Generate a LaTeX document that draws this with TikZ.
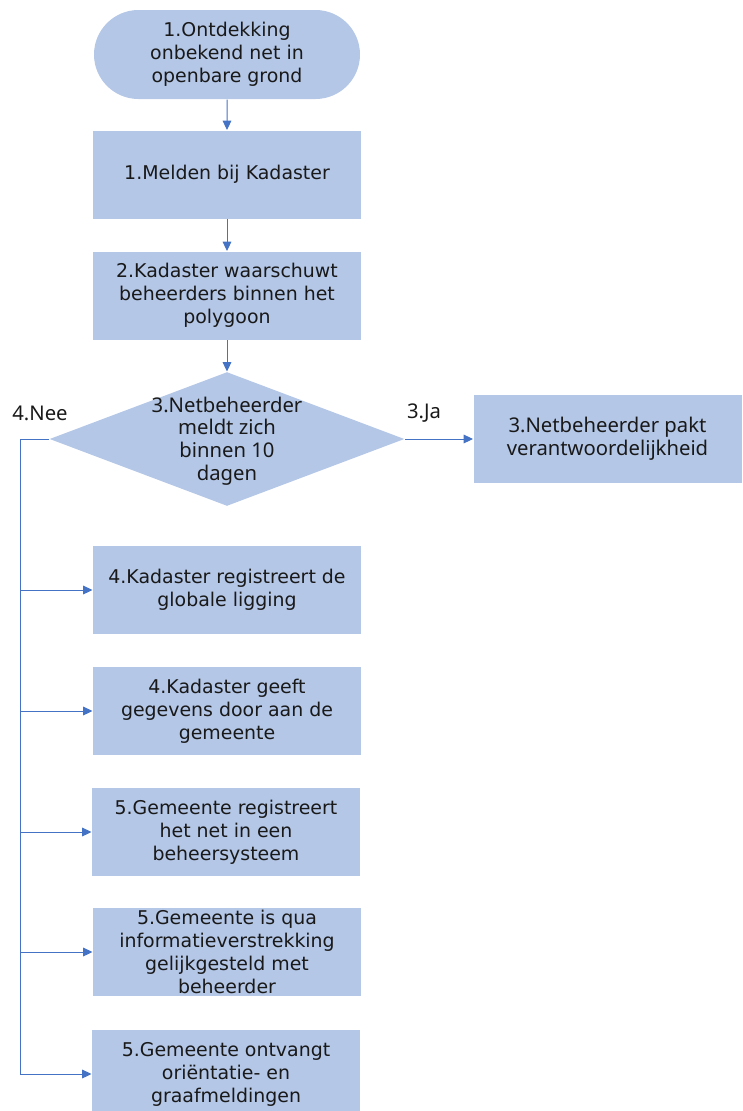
\documentclass[tikz,border=0pt]{standalone}
\usepackage{fontspec}
\setmainfont{DejaVu Sans}
\newfontfamily\segoefont{Noto Sans}
\usetikzlibrary{shapes.geometric,shapes.misc,arrows.meta}

\definecolor{boxblue}{RGB}{180,199,231}
\definecolor{lineblue}{RGB}{68,114,196}
\definecolor{txtdark}{RGB}{25,25,25}

\tikzset{every picture/.style={line width=0.75pt}}
\tikzset{
  procbox/.style={rectangle, fill=boxblue, minimum width=201pt, minimum height=66pt, inner sep=0.75pt, align=center, text=txtdark, font=\fontsize{14.2}{17.2}\selectfont},
  termbox/.style={procbox, rounded rectangle, minimum height=66.75pt},
  sidebox/.style={procbox, font=\segoefont\fontsize{15.2}{17}\selectfont},
  decision/.style={diamond, fill=boxblue, minimum width=266.25pt, minimum height=100.5pt, inner sep=0pt},
  flowline/.style={draw=lineblue, line width=0.75pt, -{Triangle[length=7pt,width=6.5pt]}},
  branchlbl/.style={inner sep=0.75pt, text=txtdark, font=\segoefont\fontsize{15.2}{17}\selectfont}
}

\begin{document}
\begin{tikzpicture}[x=0.75pt,y=0.75pt,yscale=-1,xscale=1]
%set diagram left start at 0, and has height of 1111
\useasboundingbox (0,0) rectangle (743,1111);

%Shape: Terminator
\node (start) [termbox] at (227,54.5) {1.Ontdekking\\onbekend net in\\openbare grond};
%Shape: Rectangle
\node (melden) [procbox] at (227,174.5) {1.Melden bij Kadaster};
%Shape: Rectangle
\node (waarsch) [procbox] at (227,295.5) {2.Kadaster waarschuwt\\beheerders binnen het\\polygoon};
%Shape: Diamond
\node (check) [decision] at (227,439) {};
\node (checktxt) [branchlbl, align=center] at (227,441) {3.Netbeheerder\\meldt zich\\binnen 10\\dagen};
%Shape: Rectangle
\node (pakt) [sidebox] at (607.5,439) {3.Netbeheerder pakt\\verantwoordelijkheid};

%Shape: Rectangle
\node (regist) [procbox] at (227,590) {4.Kadaster registreert de\\globale ligging};
%Shape: Rectangle
\node (geeft) [procbox] at (227,711) {4.Kadaster geeft\\gegevens door aan de\\gemeente};
%Shape: Rectangle
\node (gemreg) [procbox] at (226,832) {5.Gemeente registreert\\het net in een\\beheersysteem};
%Shape: Rectangle
\node (gemqua) [procbox] at (227,952) {5.Gemeente is qua\\informatieverstrekking\\gelijkgesteld met\\beheerder};
%Shape: Rectangle
\node (gemontv) [procbox] at (226,1074) {5.Gemeente ontvangt\\oriëntatie- en\\graafmeldingen};

% Text Node
\node (neelbl) [branchlbl] at (40,413) {4.Nee};
% Text Node
\node (jalbl) [branchlbl] at (424,413) {3.Ja};

%Straight Lines
\draw [flowline] (start) -- (melden);
\draw [flowline] (melden) -- (waarsch);
\draw [flowline] (waarsch) -- (check);
\draw [flowline] (check) -- (pakt);

%Straight Lines
\coordinate (trunk) at (20,439);
\draw [draw=lineblue] (check.west) -- (trunk);
\draw [flowline] (trunk) |- (regist);
\draw [flowline] (trunk) |- (geeft);
\draw [flowline] (trunk) |- (gemreg);
\draw [flowline] (trunk) |- (gemqua);
\draw [flowline] (trunk) |- (gemontv);

\end{tikzpicture}
\end{document}
